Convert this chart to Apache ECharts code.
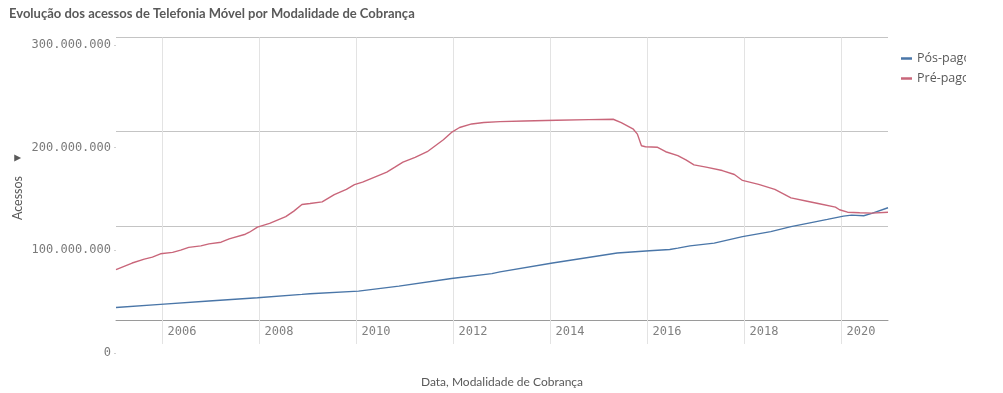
<!DOCTYPE html>
<html>
<head>
<meta charset="utf-8">
<script src="https://cdn.jsdelivr.net/npm/echarts@6/dist/echarts.min.js"></script>
<style>
html,body{margin:0;padding:0;background:#fff;}
#chart{width:1003px;height:393px;}
</style>
</head>
<body>
<div id="chart"></div>
<script>
// ---- Data (values in millions of accesses) ----
const title = 'Evolução dos acessos de Telefonia Móvel por Modalidade de Cobrança';
const seriesNames = ['Pós-pago', 'Pré-pago'];

const posDates = ['2005-01','2005-12','2006-12','2007-12','2008-11','2009-01','2010-01','2010-11','2011-12','2012-10','2012-12','2014-01','2015-05','2016-01','2016-06','2016-08','2016-11','2017-05','2017-12','2018-07','2018-12','2019-05','2019-09','2020-01','2020-03','2020-06','2020-08','2020-12'];
const posValues = [13.2,16.6,20.2,23.7,27.2,27.9,30.7,36.0,44.0,49.3,51.1,60.5,71.1,73.5,74.9,76.3,78.7,81.6,88.6,93.9,99.2,103.4,106.8,110.3,111.4,110.7,113.2,119.2];

const preDates = ['2005-01','2005-05','2005-08','2005-10','2005-12','2006-03','2006-05','2006-07','2006-10','2006-12','2007-03','2007-05','2007-09','2007-10','2007-12','2008-03','2008-07','2008-09','2008-11','2009-01','2009-04','2009-07','2009-10','2009-12','2010-02','2010-05','2010-08','2010-10','2010-12','2011-03','2011-06','2011-08','2011-10','2011-12','2012-02','2012-05','2012-08','2012-12','2013-06','2014-02','2014-10','2015-04','2015-06','2015-09','2015-10','2015-11','2015-12','2016-03','2016-05','2016-08','2016-10','2016-12','2017-03','2017-07','2017-10','2017-12','2018-04','2018-08','2018-12','2019-04','2019-07','2019-11','2019-12','2020-02','2020-05','2020-08','2020-12'];
const preValues = [53.5,60.5,64.7,66.8,70.3,71.8,74.2,77.1,78.7,80.8,82.6,86.1,91.1,93.2,98.7,102.6,109.7,115.6,122.6,123.7,125.5,133.2,138.7,143.7,146.5,151.8,157.1,162.3,167.6,172.8,178.7,185.1,191.4,199.2,204.4,208.2,209.7,210.7,211.4,212.1,212.8,213.2,209.7,202.6,197.4,185.1,184.0,183.4,178.7,174.5,170.0,164.7,162.3,158.7,154.5,148.2,144.0,138.7,129.7,126.1,123.4,119.8,117.1,114.5,113.9,113.5,114.5];

const yearTicks = [2006,2008,2010,2012,2014,2016,2018,2020];

// ---- helpers ----
function toYear(s){ const p = s.split('-'); return +p[0] + (+p[1] - 0.5) / 12; }
function pairs(dates, vals){ return dates.map((d,i)=>[toYear(d), vals[i]*1e6]); }
function fmt(v){ return String(Math.round(v)).replace(/\B(?=(\d{3})+(?!\d))/g, '.'); }

const xMin = toYear(posDates[0]);
const xMax = toYear(posDates[posDates.length-1]);

const chart = echarts.init(document.getElementById('chart'), null, {renderer:'canvas'});
const option = {
  animation: false,
  backgroundColor: '#ffffff',
  title: {
    text: title, left: 4, top: 2,
    textStyle: {fontFamily: 'Lato, sans-serif', fontWeight: 'bold', fontSize: 13, color: '#595959'}
  },
  legend: {
    orient: 'vertical', left: 896, top: 47, itemGap: 7,
    icon: 'rect', itemWidth: 11, itemHeight: 2.5,
    data: seriesNames,
    textStyle: {fontFamily: '"Open Sans", sans-serif', fontSize: 12.5, color: '#595959'}
  },
  grid: [
    {left: 116, right: 115, top: 37.5, bottom: 70.5},
    {left: 116, right: 115, top: 45, bottom: 40}
  ],
  xAxis: [
    {
      type: 'value', gridIndex: 0, min: xMin, max: xMax,
      name: 'Data, Modalidade de Cobrança', nameLocation: 'middle', nameGap: 56,
      nameTextStyle: {fontFamily: 'Lato, sans-serif', fontSize: 12, color: '#595959'},
      axisLine: {show: true, lineStyle: {color: '#9a9a9a', width: 1}},
      axisTick: {show: true, customValues: yearTicks, length: 24, lineStyle: {color: '#e3e3e3'}},
      axisLabel: {show: true, customValues: yearTicks, align: 'left', padding: [0,0,0,5], margin: 6,
        fontFamily: '"DejaVu Sans Mono", monospace', fontSize: 12, color: '#808080', formatter: v => String(v)},
      splitLine: {show: true, customValues: yearTicks, lineStyle: {color: '#e3e3e3', width: 1}}
    },
    {type: 'value', gridIndex: 1, show: false, min: 0, max: 1}
  ],
  yAxis: [
    {
      type: 'value', gridIndex: 0, min: 0, max: 300000000, interval: 100000000,
      axisLine: {show: false}, axisTick: {show: false}, axisLabel: {show: false},
      splitLine: {show: true, lineStyle: {color: '#c4c4c4', width: 1}}
    },
    {
      type: 'value', gridIndex: 1, min: 0, max: 300000000, interval: 100000000,
      axisLine: {show: false}, splitLine: {show: false},
      axisTick: {show: true, length: 2, lineStyle: {color: '#d0d0d0'}},
      axisLabel: {show: true, margin: 5, fontFamily: '"DejaVu Sans Mono", monospace', fontSize: 12, color: '#7a7a7a', formatter: v => fmt(v)}
    }
  ],
  graphic: [
    {type: 'text', x: 18, y: 198, rotation: Math.PI/2,
      style: {text: 'Acessos', fontFamily: 'Lato, sans-serif', fontSize: 12.5, fill: '#595959', align: 'center', verticalAlign: 'middle'}},
    {type: 'text', x: 18, y: 158, rotation: Math.PI/2,
      style: {text: '▼', fontFamily: '"DejaVu Sans", sans-serif', fontSize: 9, fill: '#595959', align: 'center', verticalAlign: 'middle'}},
    {type: 'rect', z: 100, shape: {x: 966, y: 42, width: 40, height: 45}, style: {fill: '#ffffff'}}
  ],
  series: [
    {name: seriesNames[0], type: 'line', xAxisIndex: 0, yAxisIndex: 0, data: pairs(posDates, posValues),
      showSymbol: false, color: '#4a76a8', lineStyle: {width: 1.4, color: '#4a76a8'}},
    {name: seriesNames[1], type: 'line', xAxisIndex: 0, yAxisIndex: 0, data: pairs(preDates, preValues),
      showSymbol: false, color: '#c9667a', lineStyle: {width: 1.4, color: '#c9667a'}}
  ]
};
chart.setOption(option);
</script>
</body>
</html>
